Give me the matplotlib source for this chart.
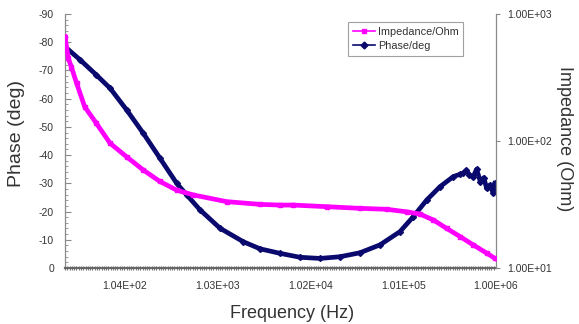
import numpy as np
import matplotlib
matplotlib.use("Agg")
import matplotlib.pyplot as plt
from matplotlib.ticker import (FixedLocator, NullLocator, NullFormatter,
                               MultipleLocator)

# ---------------------------------------------------------------------------
# Data
# ---------------------------------------------------------------------------
phase_freq = [24, 35, 52, 73, 110, 166, 250, 378, 484, 672, 1100, 1960, 2960,
              4840, 7930, 13000, 21300, 34800, 57100, 93600, 130000, 181000,
              251000, 349000, 411000, 446000, 480000, 520000, 571000, 620000,
              680000, 740000, 795000, 860000, 936000, 975000]
phase_deg = [-78.4, -73.7, -68.4, -63.7, -56.0, -47.7, -38.9, -30.0, -25.9,
             -20.6, -14.1, -9.3, -6.8, -5.2, -3.8, -3.4, -4.0, -5.4, -8.2,
             -12.9, -18.2, -24.1, -28.8, -32.4, -33.2, -33.6, -34.6, -33.0,
             -32.4, -35.0, -30.6, -32.0, -28.2, -29.4, -26.5, -30.0]

imp_freq = [24, 26, 28, 32, 39, 52, 73, 110, 166, 250, 378, 570, 1300, 2960,
            4840, 6720, 15300, 34800, 67400, 110000, 153000, 213000, 296000,
            411000, 571000, 795000, 975000]
imp_ohm = [662, 448, 385, 284, 186, 138, 96, 75, 59, 48, 41, 37.6, 33.3, 31.7,
           31.3, 31.3, 30.4, 29.5, 29.0, 27.7, 26.6, 23.9, 20.5, 17.7, 15.2,
           13.1, 11.9]

x_ticks = [104, 1030, 10200, 101000, 1000000]
x_labels = ["1.04E+02", "1.03E+03", "1.02E+04", "1.01E+05", "1.00E+06"]
z_ticks = [10, 100, 1000]
z_labels = ["1.00E+01", "1.00E+02", "1.00E+03"]

MAGENTA = "#ff00ff"
NAVY = "#0a0a6e"
GRID_GREY = "#8a8a8a"
TXT = "#333333"

plt.rcParams["font.family"] = ["Liberation Sans", "DejaVu Sans"]


def main():
    fig = plt.figure(figsize=(5.79, 3.24), dpi=100)
    ax = fig.add_axes([0.1123, 0.1728, 0.7443, 0.784])
    ax2 = ax.twinx()

    # phase on the left axis (inverted: 0 at bottom, -90 at top)
    ax.plot(phase_freq, phase_deg, "-", color=NAVY, lw=3.4,
            marker="D", ms=3, label="Phase/deg", zorder=3)
    # impedance on the right log axis
    ax2.plot(imp_freq, imp_ohm, "-", color=MAGENTA, lw=3.4,
             marker="s", ms=3.5, label="Impedance/Ohm", zorder=3)

    ax.set_xscale("log")
    ax.set_xlim(24, 1.0e6)
    ax.set_ylim(0, -90)
    ax.yaxis.set_minor_locator(MultipleLocator(2))
    ax.set_yticks(np.arange(0, -100, -10))
    ax.set_yticklabels([f"{v:d}" for v in range(0, -100, -10)])

    ax.xaxis.set_major_locator(FixedLocator(x_ticks))
    ax.xaxis.set_ticklabels(x_labels)
    ax.xaxis.set_minor_locator(FixedLocator(
        np.logspace(np.log10(24), 6, 190)))
    ax.xaxis.set_minor_formatter(NullFormatter())

    ax2.set_yscale("log")
    ax2.set_ylim(10, 1000)
    ax2.yaxis.set_major_locator(FixedLocator(z_ticks))
    ax2.yaxis.set_ticklabels(z_labels)
    ax2.yaxis.set_minor_locator(NullLocator())
    ax2.yaxis.set_minor_formatter(NullFormatter())

    for a in (ax, ax2):
        a.spines["top"].set_visible(False)
        for s in ("left", "right", "bottom"):
            a.spines[s].set_color(GRID_GREY)
            a.spines[s].set_linewidth(0.9)
        a.patch.set_visible(False)
    ax.spines["right"].set_visible(False)
    ax2.spines["left"].set_visible(False)
    ax2.spines["bottom"].set_visible(False)
    ax.spines["bottom"].set_linewidth(1.6)
    ax.spines["bottom"].set_color("#666666")

    ax.tick_params(axis="y", which="major", direction="in", length=4,
                   color=GRID_GREY, labelsize=7.5, labelcolor=TXT, pad=8)
    ax.tick_params(axis="y", which="minor", direction="in", length=2.5,
                   color=GRID_GREY)
    ax.tick_params(axis="x", which="major", length=0, labelsize=7.5,
                   labelcolor=TXT, pad=9)
    ax.tick_params(axis="x", which="minor", direction="inout", length=2.5,
                   width=0.8, color="#777777")
    ax2.tick_params(axis="y", which="major", direction="out", length=3,
                    color=GRID_GREY, labelsize=7.5, labelcolor=TXT, pad=5)

    ax.set_ylabel("Phase (deg)", fontsize=14, color=TXT)
    ax.yaxis.set_label_coords(-0.092, 0.53)
    ax.set_xlabel("Frequency (Hz)", fontsize=13, color=TXT)
    ax.xaxis.set_label_coords(0.527, -0.145)
    ax2.set_ylabel("Impedance (Ohm)", fontsize=13, color=TXT,
                   rotation=270, va="center")
    ax2.yaxis.set_label_coords(1.16, 0.51)

    h1, l1 = ax2.get_legend_handles_labels()
    h2, l2 = ax.get_legend_handles_labels()
    leg = fig.legend(h1 + h2, l1 + l2, loc="upper left",
                     bbox_to_anchor=(0.601, 0.932), fontsize=7.8,
                     frameon=True, fancybox=False, handlelength=2.0,
                     borderpad=0.45, labelspacing=0.35, handletextpad=0.3,
                     borderaxespad=0)
    leg.get_frame().set_edgecolor(GRID_GREY)
    leg.get_frame().set_linewidth(0.8)
    for line in leg.get_lines():
        line.set_linewidth(1.2)
        line.set_markersize(3.5)
    for t in leg.get_texts():
        t.set_color(TXT)

    fig.savefig("out.png", dpi=100)


if __name__ == "__main__":
    main()
